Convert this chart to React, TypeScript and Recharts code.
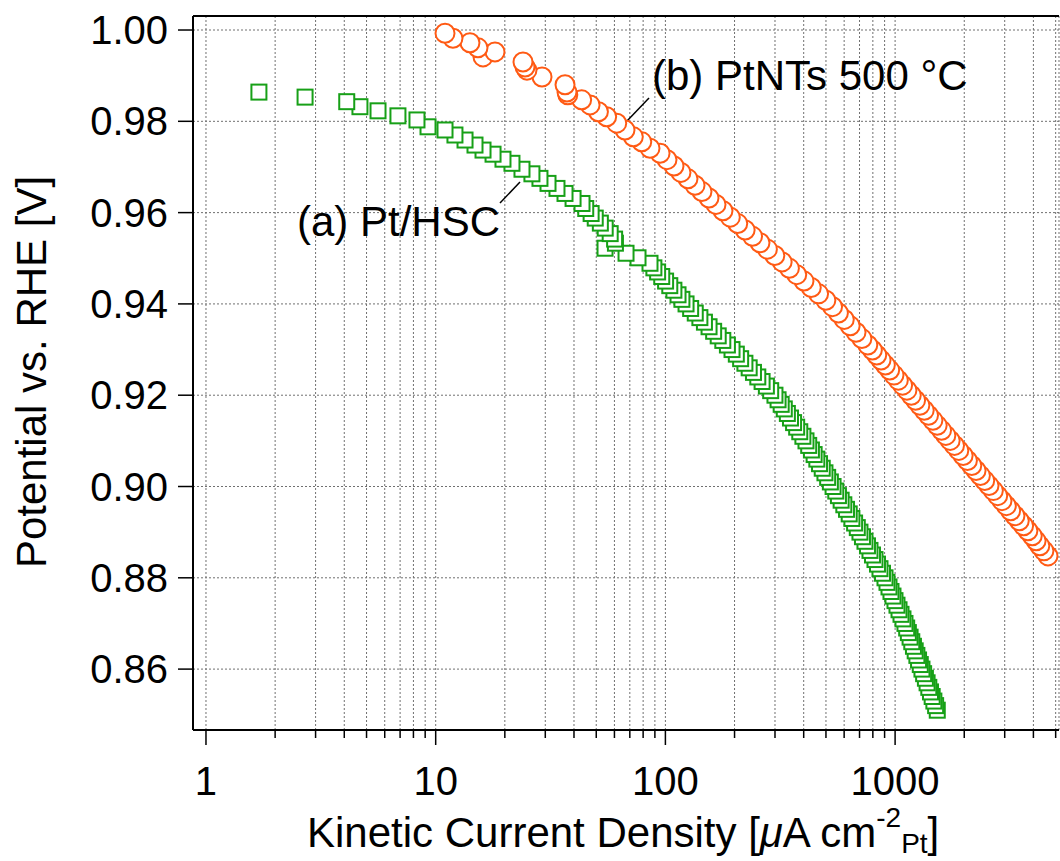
import { ScatterChart, Scatter, XAxis, YAxis, CartesianGrid, ReferenceLine, Customized } from "recharts";

const FONT = '"Liberation Sans", Arial, Helvetica, sans-serif';
const GREEN = "#17a017";
const ORANGE = "#ff5a14";

// (a) Pt/HSC: potential vs. RHE [V] and kinetic current density [uA cm-2 Pt]
const hscPotential = [
  0.9864, 0.9853, 0.9843, 0.9832, 0.9823, 0.9812, 0.9803, 0.9788, 0.9781, 0.977,
  0.9759, 0.9748, 0.9737, 0.9728, 0.9717, 0.9708, 0.9695, 0.9685, 0.9675, 0.9664,
  0.9653, 0.9642, 0.9631, 0.962, 0.9609, 0.9598, 0.9588, 0.9577, 0.9566, 0.9554,
  0.9542, 0.9533, 0.9522, 0.9511, 0.9501, 0.9489, 0.9479,
  0.947, 0.946, 0.945, 0.944, 0.943, 0.942, 0.941, 0.94, 0.939, 0.938,
  0.937, 0.936, 0.935, 0.934, 0.933, 0.932, 0.931, 0.93, 0.929, 0.928,
  0.927, 0.926, 0.925, 0.924, 0.923, 0.922, 0.921, 0.92, 0.919, 0.918,
  0.917, 0.916, 0.915, 0.914, 0.913, 0.912, 0.911, 0.91, 0.909, 0.908,
  0.907, 0.906, 0.905, 0.904, 0.903, 0.902, 0.901, 0.9, 0.899, 0.898,
  0.897, 0.896, 0.895, 0.894, 0.893, 0.892, 0.891, 0.89, 0.889, 0.888,
  0.887, 0.886, 0.885, 0.884, 0.883, 0.882, 0.881, 0.88, 0.879, 0.878,
  0.877, 0.876, 0.875, 0.874, 0.873, 0.872, 0.871, 0.87, 0.869, 0.868,
  0.867, 0.866, 0.865, 0.864, 0.863, 0.862, 0.861, 0.86, 0.859, 0.858,
  0.857, 0.856, 0.855, 0.854, 0.853, 0.852, 0.851,
];
const hscCurrent = [
  1.7, 2.7, 4.1, 4.68, 5.61, 6.85, 8.29, 9.26, 10.98, 12.13,
  13.42, 14.83, 16.07, 17.77, 19.63, 21.48, 23.75, 26.24, 28.44, 30.83,
  33.73, 36.56, 39.63, 43.35, 45.0, 47.5, 49.5, 52.1, 54.7, 57.5,
  60.1, 60.6, 54.6, 67.4, 76.0, 85.7, 89.1,
  92.5, 96.4, 100.2, 104.5, 108.9, 113.5, 118.0, 123.0, 128.8, 134.9,
  141.3, 147.9, 154.9, 162.2, 169.8, 177.8, 186.2, 195.0, 203.6, 212.6,
  221.9, 231.6, 241.8, 252.5, 263.6, 275.2, 287.3, 299.9, 309.4, 319.2,
  329.3, 339.6, 350.4, 361.4, 372.8, 384.6, 396.8, 409.3, 420.6, 432.2,
  444.1, 456.3, 468.8, 481.7, 495.0, 508.6, 522.6, 537.0, 551.7, 566.7,
  582.2, 598.1, 614.5, 631.3, 648.5, 666.3, 684.5, 703.1, 721.0, 739.3,
  758.1, 777.4, 797.2, 817.4, 838.1, 859.4, 881.2, 903.6, 921.9, 940.6,
  959.6, 979.0, 998.8, 1019, 1040, 1061, 1082, 1104, 1123, 1142,
  1162, 1182, 1202, 1223, 1244, 1265, 1287, 1309, 1331, 1355,
  1378, 1402, 1426, 1450, 1475, 1501, 1526,
];

// (b) PtNTs 500 °C
const ntPotential = [
  0.9993, 0.9982, 0.9972, 0.9961, 0.9952, 0.9941, 0.993, 0.9919, 0.9912, 0.9897,
  0.988, 0.9864, 0.9858, 0.9847, 0.9836, 0.9821, 0.981, 0.9796, 0.9781, 0.9766,
  0.9755, 0.9741, 0.973, 0.9716, 0.9702, 0.9688, 0.9674, 0.966, 0.9646, 0.9632,
  0.9618, 0.9604, 0.959, 0.9576, 0.9562, 0.9548, 0.9534, 0.952, 0.9506, 0.9492,
  0.9478, 0.9464, 0.945, 0.9436, 0.9422, 0.9408, 0.9394, 0.938, 0.9366, 0.9352,
  0.9338, 0.9324, 0.931, 0.9299, 0.9288, 0.9277, 0.9266, 0.9255, 0.9244, 0.9233,
  0.9222, 0.9211, 0.92, 0.9189, 0.9178, 0.9167, 0.9156, 0.9145, 0.9134, 0.9123,
  0.9112, 0.9101, 0.909, 0.9079, 0.9068, 0.9057, 0.9046, 0.9035, 0.9024, 0.9013,
  0.9002, 0.8991, 0.898, 0.8969, 0.8958, 0.8947, 0.8936, 0.8925, 0.8914, 0.8903,
  0.8892, 0.8881, 0.887, 0.8859, 0.8848,
];
const ntCurrent = [
  10.98, 11.89, 14.1, 15.28, 18.12, 16.07, 23.99, 24.48, 24.97, 29.03,
  36.56, 37.29, 37.6, 43.2, 47.0, 51.1, 55.5, 61.4, 66.7, 72.5,
  78.9, 85.7, 94.8, 101.6, 109.0, 116.9, 125.4, 134.6, 144.3, 154.8,
  166.1, 178.1, 191.7, 206.5, 222.4, 239.6, 258.1, 278.0, 299.5, 322.3,
  346.7, 373.0, 401.2, 431.6, 464.4, 499.5, 534.2, 566.5, 600.8, 637.4,
  676.0, 717.1, 760.5, 796.3, 831.8, 868.6, 906.9, 947.2, 989.0, 1033,
  1078, 1126, 1176, 1228, 1282, 1339, 1398, 1461, 1525, 1593,
  1663, 1737, 1814, 1894, 1978, 2065, 2157, 2252, 2352, 2456,
  2564, 2678, 2797, 2920, 3050, 3184, 3325, 3472, 3626, 3786,
  3955, 4111, 4267, 4446, 4630,
];

const xTicks = [
  1, 2, 3, 4, 5, 6, 7, 8, 9,
  10, 20, 30, 40, 50, 60, 70, 80, 90,
  100, 200, 300, 400, 500, 600, 700, 800, 900,
  1000, 2000, 3000, 4000, 5000,
];
const yTicks = [0.86, 0.88, 0.9, 0.92, 0.94, 0.96, 0.98, 1.0];

const X_DOMAIN = [0.878, 5170];
const Y_DOMAIN = [0.84666, 1.00307];

// the sweep was recorded from low to high potential, so the upper points sit on top
const toPoints = (potential: number[], current: number[]) =>
  potential.map((E, i) => ({ E, j: current[i] })).reverse();

const hscData = toPoints(hscPotential, hscCurrent);
const ntData = toPoints(ntPotential, ntCurrent);

const isDecade = (v: number) => Math.abs(Math.log10(v) - Math.round(Math.log10(v))) < 1e-6;

const XTick = ({ x, y, payload }: any) => {
  const major = isDecade(payload.value);
  return (
    <g>
      <line x1={x} x2={x} y1={y} y2={y + (major ? 15 : 8)} stroke="#000" strokeWidth={1.5} />
      {major && (
        <text x={x} y={y + 65} textAnchor="middle" fontFamily={FONT} fontSize={40} fill="#000">
          {payload.value}
        </text>
      )}
    </g>
  );
};

const YTick = ({ x, y, payload }: any) => (
  <g>
    <line x1={x - 15} x2={x} y1={y} y2={y} stroke="#000" strokeWidth={1.5} />
    <text x={x - 25} y={y + 14} textAnchor="end" fontFamily={FONT} fontSize={40} fill="#000">
      {payload.value.toFixed(2)}
    </text>
  </g>
);

const Square = (props: any) => (
  <rect x={props.cx - 7.5} y={props.cy - 7.5} width={15} height={15} fill="#fff" stroke={GREEN} strokeWidth={2} />
);

const Ring = (props: any) => (
  <circle cx={props.cx} cy={props.cy} r={9.5} fill="#fff" stroke={ORANGE} strokeWidth={2} />
);

const Annotations = () => (
  <g fontFamily={FONT} fill="#000">
    <text x={297} y={236} fontSize={42}>(a) Pt/HSC</text>
    <line x1={500} y1={203} x2={520} y2={182} stroke="#000" strokeWidth={1.5} />
    <text x={652} y={90} fontSize={42}>(b) PtNTs 500 °C</text>
    <line x1={649} y1={98} x2={627} y2={121} stroke="#000" strokeWidth={1.5} />
    <text x={307} y={847} fontSize={42}>
      Kinetic Current Density [<tspan fontStyle="italic">μ</tspan>A cm
      <tspan fontSize={28} dy={-20}>-2</tspan>
      <tspan fontSize={28} dy={26}>Pt</tspan>
      <tspan dy={-6}>]</tspan>
    </text>
    <text x={46} y={372} fontSize={42} textAnchor="middle" transform="rotate(-90, 46, 372)">
      Potential vs. RHE [V]
    </text>
  </g>
);

export default function App() {
  return (
    <div style={{ position: "absolute", left: 0, top: 0, width: 1060, height: 861, background: "#fff" }}>
      <ScatterChart width={1060} height={861} margin={{ top: 16, right: 1, bottom: 0, left: 0 }}>
        <CartesianGrid stroke="#707070" strokeDasharray="2 2" />
        <XAxis
          type="number"
          dataKey="j"
          scale="log"
          domain={X_DOMAIN}
          allowDataOverflow
          ticks={xTicks}
          interval={0}
          height={131}
          tickSize={0}
          tickMargin={0}
          tickLine={false}
          tick={<XTick />}
          axisLine={{ stroke: "#000", strokeWidth: 2 }}
        />
        <YAxis
          type="number"
          dataKey="E"
          domain={Y_DOMAIN}
          allowDataOverflow
          ticks={yTicks}
          interval={0}
          width={193}
          tickSize={0}
          tickMargin={0}
          tickLine={false}
          tick={<YTick />}
          axisLine={{ stroke: "#000", strokeWidth: 2 }}
        />
        <ReferenceLine y={Y_DOMAIN[1]} stroke="#000" strokeWidth={2} />
        <Scatter data={hscData} shape={Square} isAnimationActive={false} />
        <Scatter data={ntData} shape={Ring} isAnimationActive={false} />
        <Customized component={Annotations} />
      </ScatterChart>
    </div>
  );
}
